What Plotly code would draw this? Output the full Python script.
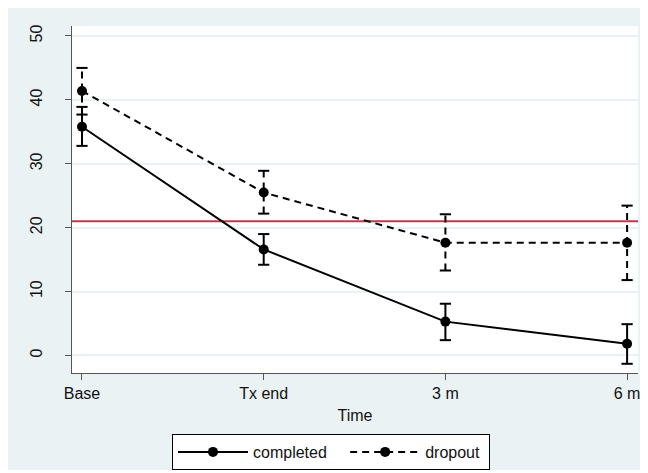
import plotly.graph_objects as go

# ---- data ----
time_labels = ["Base", "Tx end", "3 m", "6 m"]
time_pos = [0, 1, 2, 3]

completed_mean = [35.8, 16.6, 5.3, 1.85]
completed_lo = [32.8, 14.2, 2.4, -1.3]
completed_hi = [38.9, 19.0, 8.1, 4.9]

dropout_mean = [41.4, 25.5, 17.65, 17.65]
dropout_lo = [37.7, 22.2, 13.3, 11.8]
dropout_hi = [45.0, 28.9, 22.1, 23.45]

reference_value = 21
y_ticks = [0, 10, 20, 30, 40, 50]

# ---- styling ----
BG = "#EAF2F3"
RED = "#C8344F"
FONT = "Liberation Sans, Arial, sans-serif"
DASH = "7px,5px"
AXC = "#555555"

# page body has an 8px margin; figure sits at (8, 8)
OFF = 8
W, H = 640, 462
ML, MR, MT, MB = 64, 10, 18, 97
PW, PH = W - ML - MR, H - MT - MB


def px_x(p):  # reference page pixel -> paper x
    return (p - OFF - ML) / PW


def px_y(p):  # reference page pixel -> paper y
    return (H - MB - (p - OFF)) / PH


fig = go.Figure()


def add_series(name, mean, lo, hi, dash, pad):
    seg_x, seg_y = [], []
    for x, l, h in zip(time_pos, lo, hi):
        seg_x += [x, x, None]
        seg_y += [l, h, None]
    fig.add_trace(go.Scatter(
        x=seg_x, y=seg_y, mode="lines",
        line=dict(color="black", width=2, dash=dash),
        showlegend=False, hoverinfo="skip"))
    fig.add_trace(go.Scatter(
        x=time_pos + time_pos, y=list(lo) + list(hi), mode="markers",
        marker=dict(symbol="line-ew", size=8, color="black",
                    line=dict(color="black", width=2)),
        showlegend=False, hoverinfo="skip"))
    fig.add_trace(go.Scatter(
        x=time_pos, y=mean, mode="lines+markers", name=name + "\u00a0" * pad,
        line=dict(color="black", width=2, dash=dash),
        marker=dict(symbol="circle", size=10, color="black")))


add_series("completed", completed_mean, completed_lo, completed_hi, "solid", 3)
add_series("dropout", dropout_mean, dropout_lo, dropout_hi, DASH, 1)

shapes = [
    dict(type="line", xref="paper", yref="y", x0=0, x1=1,
         y0=reference_value, y1=reference_value,
         line=dict(color=RED, width=2), layer="between"),
]

fig.update_layout(
    width=W, height=H,
    margin=dict(l=ML, r=MR, t=MT, b=MB, pad=0, autoexpand=False),
    paper_bgcolor=BG, plot_bgcolor="white",
    font=dict(family=FONT, size=16, color="#111111"),
    shapes=shapes,
    showlegend=True,
    legend=dict(orientation="h", x=px_x(172), xanchor="left",
                y=px_y(434), yanchor="top",
                bgcolor="white", bordercolor="black", borderwidth=1,
                itemwidth=70,
                font=dict(size=16), traceorder="normal"),
    xaxis=dict(range=[-0.055, 3.06], tickvals=time_pos, ticktext=time_labels,
               showgrid=False, zeroline=False, showline=True,
               linecolor=AXC, linewidth=1, automargin=False,
               ticks="outside", ticklen=6, tickcolor=AXC,
               tickfont=dict(size=16),
               title=dict(text="Time", standoff=8, font=dict(size=16))),
    yaxis=dict(range=[-2.74, 51.56], tickvals=y_ticks, tickangle=-90,
               showgrid=True, gridcolor=BG, gridwidth=1.5,
               zeroline=False, showline=True,
               linecolor=AXC, linewidth=1, automargin=False,
               ticks="outside", ticklen=6, tickcolor=AXC,
               tickfont=dict(size=16), ticklabelstandoff=17),
)

fig.write_html("out.html")
